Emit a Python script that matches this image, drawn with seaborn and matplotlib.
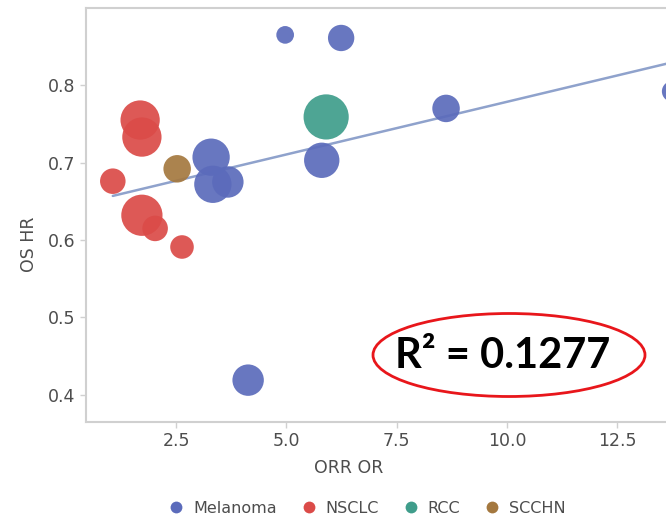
import matplotlib
matplotlib.use("Agg")
import matplotlib.pyplot as plt
from matplotlib.patches import Ellipse
from matplotlib.lines import Line2D
import seaborn as sns
import pandas as pd

# ---- data ----
tumor = ["Melanoma"] * 9 + ["RCC"] + ["SCCHN"] + ["NSCLC"] * 6
orr_or = [4.97, 6.24, 8.62, 13.75, 5.80, 3.29, 3.33, 3.67, 4.13,
          5.90,
          2.52,
          1.68, 1.72, 1.06, 1.72, 2.02, 2.63]
os_hr = [0.865, 0.861, 0.770, 0.792, 0.703, 0.707, 0.672, 0.675, 0.419,
         0.759,
         0.692,
         0.755, 0.733, 0.676, 0.632, 0.615, 0.591]
weight = [81, 180, 196, 110, 324, 361, 361, 256, 256,
          529,
          196,
          400, 400, 169, 441, 169, 144]
categories = ["Melanoma", "NSCLC", "RCC", "SCCHN"]
colors = ["#5b6bbb", "#db4b48", "#3f9d8b", "#a4783f"]
x_ticks = [2.5, 5.0, 7.5, 10.0, 12.5]
y_ticks = [0.4, 0.5, 0.6, 0.7, 0.8]
r2_text = "R² = 0.1277"

df = pd.DataFrame({"ORR OR": orr_or, "OS HR": os_hr, "Tumor": tumor, "w": weight})
palette = dict(zip(categories, colors))

sns.set_style("white")
plt.rcParams["font.family"] = ["DejaVu Sans"]

fig = plt.figure(figsize=(6.66, 5.19), dpi=100)
ax = fig.add_axes([0.129, 0.187, 0.92, 0.798])

sns.regplot(data=df, x="ORR OR", y="OS HR", scatter=False, ci=None, ax=ax,
            line_kws=dict(color="#8fa2cc", lw=1.8, zorder=1))
k = 2.0
sns.scatterplot(data=df, x="ORR OR", y="OS HR", hue="Tumor", hue_order=categories,
                palette=palette, size="w", size_norm=(0, 600), sizes=(0, 600 * k),
                alpha=0.92, edgecolor="none", linewidth=0, legend=False, ax=ax, zorder=3)

ax.set_xlim(0.45, 14.35)
ax.set_ylim(0.365, 0.9)
ax.set_xticks(x_ticks)
ax.set_xticklabels([f"{t:.1f}" for t in x_ticks])
ax.set_yticks(y_ticks)
ax.set_yticklabels([f"{t:.1f}" for t in y_ticks])
for s in ax.spines.values():
    s.set_color("#d0d0d0")
    s.set_linewidth(1.5)
ax.tick_params(axis="both", which="both", length=4, width=1, color="#d0d0d0",
               labelsize=12.5, labelcolor="#4d4d4d", direction="out",
               bottom=True, left=True)
ax.set_xlabel("ORR OR", fontsize=12.5, color="#4d4d4d")
ax.set_ylabel("OS HR", fontsize=12.5, color="#4d4d4d")
ax.xaxis.set_label_coords((349 - 86) / (0.92 * 666), -0.09)
ax.yaxis.set_label_coords(-0.078, 0.43)

handles = [Line2D([0], [0], marker="o", linestyle="none", markersize=8.5,
                  markerfacecolor=c, markeredgecolor="none", label=n)
           for n, c in zip(categories, colors)]
fig.legend(handles=handles, loc="center", bbox_to_anchor=(0.545, 0.021), ncol=4,
           frameon=False, fontsize=11.5, handletextpad=0.05, columnspacing=1.0,
           labelcolor="#4d4d4d")

# R^2 annotation with red ellipse
fig.text(503 / 666, 1 - 356 / 519, r2_text, ha="center", va="center",
         fontsize=30, fontweight="bold", family=["Lato", "DejaVu Sans"], color="black")
ell = Ellipse((509 / 666, 1 - 355 / 519), 272 / 666, 83 / 519, transform=fig.transFigure,
              fill=False, edgecolor="#e8161b", lw=2.0)
fig.add_artist(ell)

fig.savefig("out.png", dpi=100)
